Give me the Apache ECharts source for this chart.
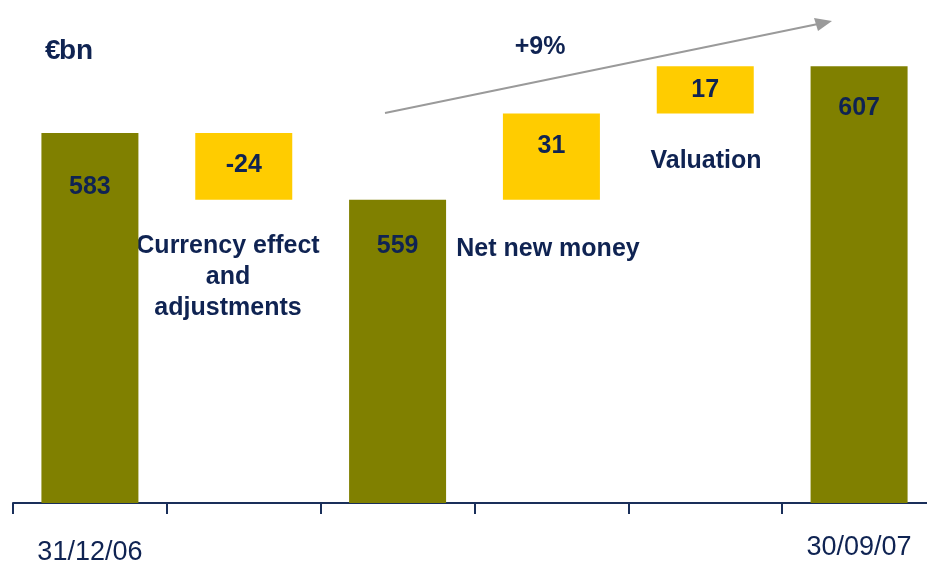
<!DOCTYPE html>
<html>
<head>
<meta charset="UTF-8">
<title>Assets waterfall</title>
<script src="https://cdn.jsdelivr.net/npm/echarts@6/dist/echarts.min.js"></script>
<style>
  body { margin: 0; background: #fff; }
  #root { width: 927px; height: 561px; }
</style>
</head>
<body>
<div id="root"></div>
<script>
// data
var categories = ['31/12/06', 'Currency effect and adjustments', '', 'Net new money', 'Valuation', '30/09/07'];
var totals = [583, null, 559, null, null, 607];   // olive bars
var changes = [null, -24, null, 31, 17, null];    // yellow floating boxes
var tickLabels = ['31/12/06', '', '', '', '', '30/09/07'];

// label gap inside olive bars, per bar
var totalLabelGap = [42, 0, 34, 0, 0, 29];

var navy = '#0f2352';
var font = 'Liberation Sans, Arial, sans-serif';

// build waterfall: invisible base + visible part
var running = 0;
var baseData = [], changeData = [];
for (var i = 0; i < categories.length; i++) {
  if (totals[i] != null) {
    running = totals[i];
    baseData.push('-');
    changeData.push('-');
  } else {
    var d = changes[i];
    var lo = d < 0 ? running + d : running;
    baseData.push(lo);
    changeData.push({
      value: Math.abs(d),
      label: {
        formatter: String(d),
        position: i === 4 ? 'inside' : 'insideTop',
        distance: 20
      }
    });
    running += d;
  }
}
var totalData = totals.map(function (v, i) {
  if (v == null) return '-';
  return { value: v, label: { distance: totalLabelGap[i] } };
});

var chart = echarts.init(document.getElementById('root'));
chart.setOption({
  animation: false,
  grid: { left: 13, width: 923, top: 30, bottom: 58, containLabel: false, outerBoundsMode: 'none' },
  xAxis: {
    type: 'category',
    data: categories,
    axisLine: { lineStyle: { color: '#1a2f5a', width: 2 } },
    axisTick: { show: true, length: 11, lineStyle: { color: '#1a2f5a', width: 2 } },
    axisLabel: {
      interval: 0,
      margin: 31,
      fontFamily: font,
      fontSize: 27,
      color: navy,
      formatter: function (v, i) {
        if (!tickLabels[i]) return '';
        return i === 0 ? '{lo|' + tickLabels[i] + '}' : tickLabels[i];
      },
      rich: {
        lo: { fontFamily: font, fontSize: 27, color: navy, padding: [5, 0, 0, 0] }
      }
    }
  },
  yAxis: {
    type: 'value',
    min: 450,
    max: 620,
    show: false
  },
  series: [
    {
      type: 'bar',
      stack: 'w',
      barWidth: 97,
      itemStyle: { color: 'transparent' },
      data: baseData,
      silent: true
    },
    {
      type: 'bar',
      stack: 'w',
      barWidth: 97,
      itemStyle: { color: '#ffcc00' },
      label: {
        show: true,
        color: navy,
        fontFamily: font,
        fontWeight: 'bold',
        fontSize: 25
      },
      data: changeData
    },
    {
      type: 'bar',
      stack: 'w',
      barWidth: 97,
      itemStyle: { color: '#808000' },
      label: {
        show: true,
        position: 'insideTop',
        color: navy,
        fontFamily: font,
        fontWeight: 'bold',
        fontSize: 25
      },
      data: totalData
    }
  ],
  graphic: [
    {
      type: 'text', x: 45, y: 51,
      style: { text: '€', fill: navy, font: 'bold 28px ' + font, verticalAlign: 'middle' }
    },
    {
      type: 'text', x: 59, y: 51,
      style: { text: 'bn', fill: navy, font: 'bold 28px ' + font, verticalAlign: 'middle' }
    },
    {
      type: 'text', x: 228, y: 277,
      style: {
        text: 'Currency effect\nand\nadjustments', fill: navy,
        font: 'bold 25px ' + font, align: 'center', verticalAlign: 'middle', lineHeight: 31
      }
    },
    {
      type: 'text', x: 548, y: 249,
      style: { text: 'Net new money', fill: navy, font: 'bold 25px ' + font, align: 'center', verticalAlign: 'middle' }
    },
    {
      type: 'text', x: 706, y: 161,
      style: { text: 'Valuation', fill: navy, font: 'bold 25px ' + font, align: 'center', verticalAlign: 'middle' }
    },
    {
      type: 'text', x: 540, y: 47,
      style: { text: '+9%', fill: navy, font: 'bold 25px ' + font, align: 'center', verticalAlign: 'middle' }
    },
    {
      type: 'line',
      shape: { x1: 385, y1: 113, x2: 818, y2: 24 },
      style: { stroke: '#9a9a9a', lineWidth: 2 }
    },
    {
      type: 'polygon',
      shape: { points: [[832, 21], [814, 18], [818, 31]] },
      style: { fill: '#9a9a9a' }
    }
  ]
});
</script>
</body>
</html>
